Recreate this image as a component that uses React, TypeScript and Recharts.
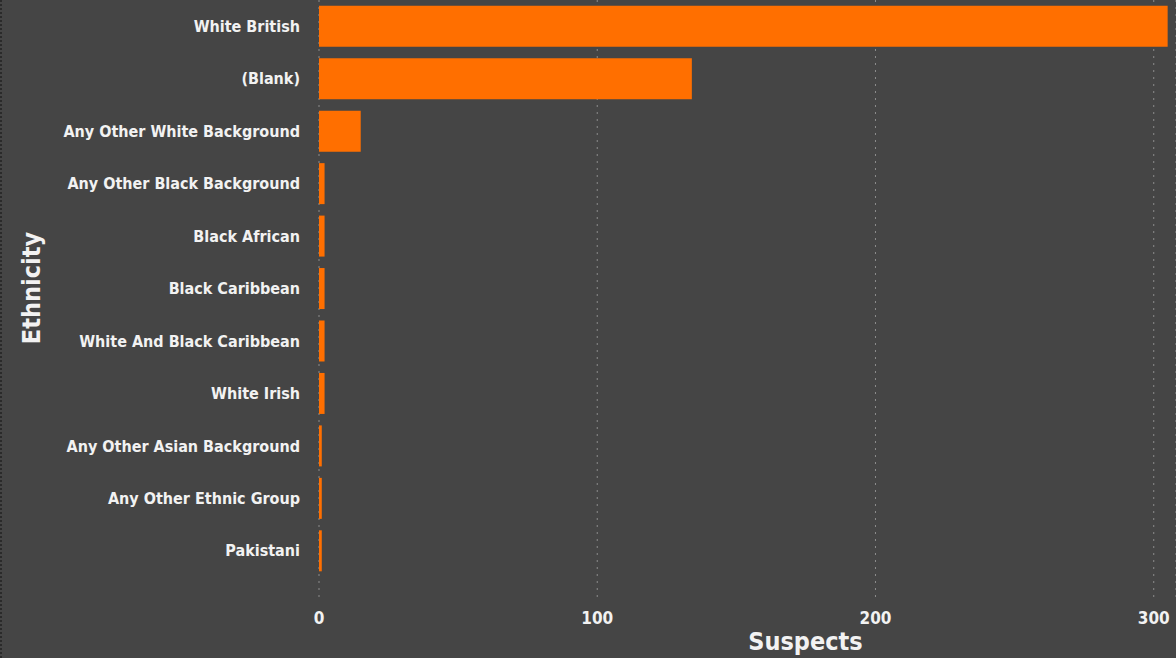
import React from 'react';
import { BarChart, Bar, XAxis, YAxis, CartesianGrid } from 'recharts';

const ethnicities = [
  'White British',
  '(Blank)',
  'Any Other White Background',
  'Any Other Black Background',
  'Black African',
  'Black Caribbean',
  'White And Black Caribbean',
  'White Irish',
  'Any Other Asian Background',
  'Any Other Ethnic Group',
  'Pakistani',
];
const suspects = [305, 134, 15, 2, 2, 2, 2, 2, 1, 1, 1];
const xTicks = [0, 100, 200, 300];

const data = ethnicities.map((name, i) => ({ name, suspects: suspects[i] }));

const FONT = "'DejaVu Sans Condensed', 'DejaVu Sans', sans-serif";
const TEXT = '#f2f2f2';

function EthnicityTitle(props: any) {
  const vb = props.viewBox || { x: 0, y: 0, height: 577 };
  const cx = 38;
  const cy = vb.y + 288;
  return (
    <text
      x={cx}
      y={cy}
      transform={`rotate(-90, ${cx}, ${cy})`}
      textAnchor="middle"
      fill={TEXT}
      fontFamily={FONT}
      fontWeight="bold"
      fontSize={25}
    >
      Ethnicity
    </text>
  );
}

function SuspectsTitle(props: any) {
  const vb = props.viewBox || { x: 319, y: 600, width: 856 };
  return (
    <text
      x={vb.x + vb.width / 2 + 58}
      y={650}
      textAnchor="middle"
      fill={TEXT}
      fontFamily={FONT}
      fontWeight="bold"
      fontSize={25}
    >
      Suspects
    </text>
  );
}

export default function App() {
  return (
    <div
      style={{
        position: 'fixed',
        left: 0,
        top: 0,
        width: 1176,
        height: 658,
        background: '#454545',
        boxSizing: 'border-box',
        borderLeft: '2px dotted #2a2a2a',
      }}
    >
      <BarChart
        width={1174}
        height={658}
        data={data}
        layout="vertical"
        barCategoryGap="11%"
        margin={{ top: 0, right: 0, bottom: 0, left: 0 }}
      >
        <CartesianGrid
          horizontal={false}
          stroke="#8c8c8c"
          strokeDasharray="2 5"
        />
        <XAxis
          type="number"
          domain={[0, 308]}
          ticks={xTicks}
          height={58}
          axisLine={false}
          tickLine={false}
          tickMargin={6}
          tick={{ fill: TEXT, fontFamily: FONT, fontWeight: 'bold', fontSize: 17 }}
          label={<SuspectsTitle />}
        />
        <YAxis
          type="category"
          dataKey="name"
          width={317}
          padding={{ top: 0, bottom: 23 }}
          axisLine={false}
          tickLine={false}
          tickMargin={13}
          interval={0}
          tick={{ fill: TEXT, fontFamily: FONT, fontWeight: 'bold', fontSize: 16 }}
          label={<EthnicityTitle />}
        />
        <Bar dataKey="suspects" fill="#ff6f00" isAnimationActive={false} />
      </BarChart>
    </div>
  );
}
